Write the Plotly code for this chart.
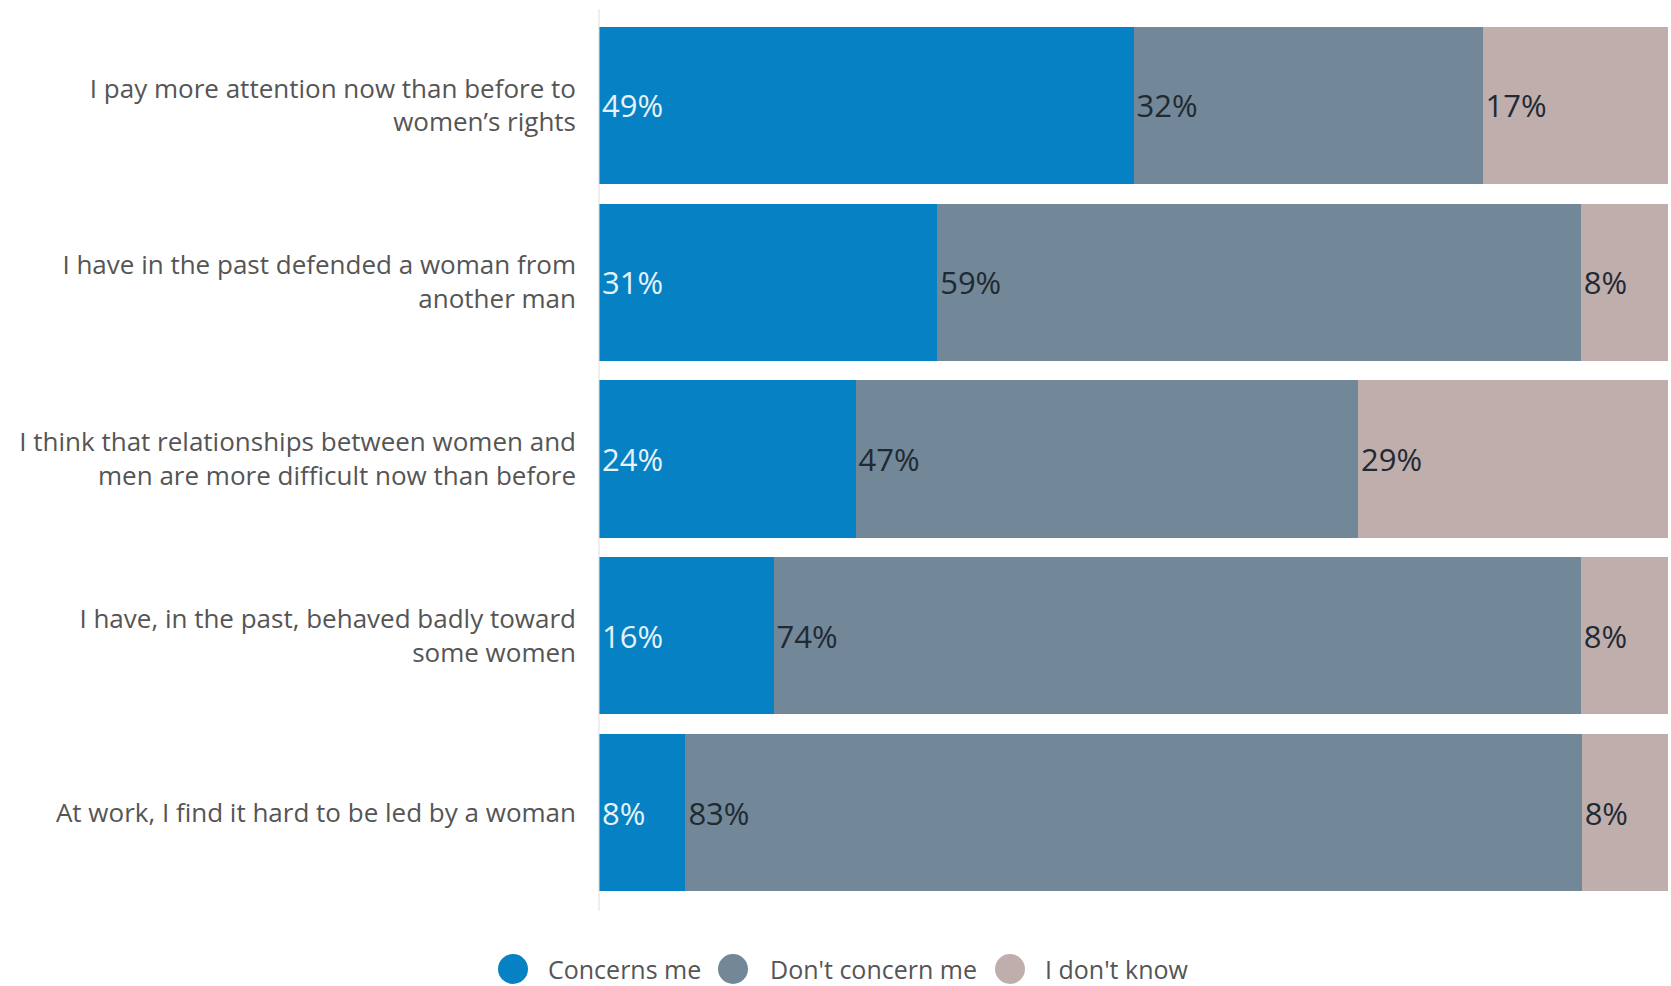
import plotly.graph_objects as go

categories = [
    "I pay more attention now than before to<br>women’s rights",
    "I have in the past defended a woman from<br>another man",
    "I think that relationships between women and<br>men are more difficult now than before",
    "I have, in the past, behaved badly toward<br>some women",
    "At work, I find it hard to be led by a woman",
]
series_names = ["Concerns me", "Don't concern me", "I don't know"]
concerns_me = [49, 31, 24, 16, 8]
dont_concern_me = [32, 59, 47, 74, 83]
dont_know = [17, 8, 29, 8, 8]

colors = ["#0681C3", "#728797", "#C0AEAD"]
text_colors = ["#E6F3FA", "#1F2A33", "#1F2A33"]
FONT = "Open Sans"

W, H = 1671, 986
L, R, T, B = 599, 3, 17, 85
pw, ph = W - L - R, H - T - B

fig = go.Figure()
for name, vals, c, tc in zip(series_names, [concerns_me, dont_concern_me, dont_know], colors, text_colors):
    fig.add_trace(go.Bar(
        y=categories, x=vals, name=name, orientation="h",
        marker=dict(color=c, line=dict(width=0)),
        text=[f"{v}%" for v in vals], textposition="inside",
        insidetextanchor="start", constraintext="none",
        textfont=dict(family=FONT, size=31, color=tc),
        showlegend=False, hoverinfo="skip",
    ))

# vertical axis line
shapes = [dict(type="line", xref="paper", yref="paper", x0=0, x1=0,
               y0=-10 / ph, y1=1 + 8 / ph, line=dict(color="#dddddd", width=1))]
annotations = []

# manual legend with circle markers
legend_y_px = 969
legend_items = [(513, 546), (733, 768), (1010, 1043)]
for (cx, tx), name, c in zip(legend_items, series_names, colors):
    xp = (cx - L) / pw
    yp = (H - B - legend_y_px) / ph
    shapes.append(dict(type="circle", xref="paper", yref="paper",
                       xsizemode="pixel", ysizemode="pixel",
                       xanchor=xp, yanchor=yp, x0=-15, x1=15, y0=-15, y1=15,
                       fillcolor=c, line=dict(width=0)))
    annotations.append(dict(text=name, xref="paper", yref="paper",
                            x=(tx - L) / pw, y=yp, xanchor="left", yanchor="middle",
                            showarrow=False, font=dict(family=FONT, size=25, color="#555555")))

fig.update_layout(
    width=W, height=H, autosize=False,
    barmode="stack", barnorm="percent", bargap=0.11,
    margin=dict(l=L, r=R, t=T, b=B, autoexpand=False),
    paper_bgcolor="white", plot_bgcolor="white",
    showlegend=False,
    xaxis=dict(range=[0, 100], visible=False, fixedrange=True),
    yaxis=dict(autorange="reversed", showgrid=False, showline=False, zeroline=False,
               ticks="", ticklabelstandoff=22, fixedrange=True,
               tickfont=dict(family=FONT, size=26, color="#555555")),
    shapes=shapes, annotations=annotations,
    font=dict(family=FONT),
)

fig.write_html("out.html", config={"responsive": False, "displayModeBar": False},
               post_script="document.body.style.margin='0';document.body.style.overflow='hidden';")
